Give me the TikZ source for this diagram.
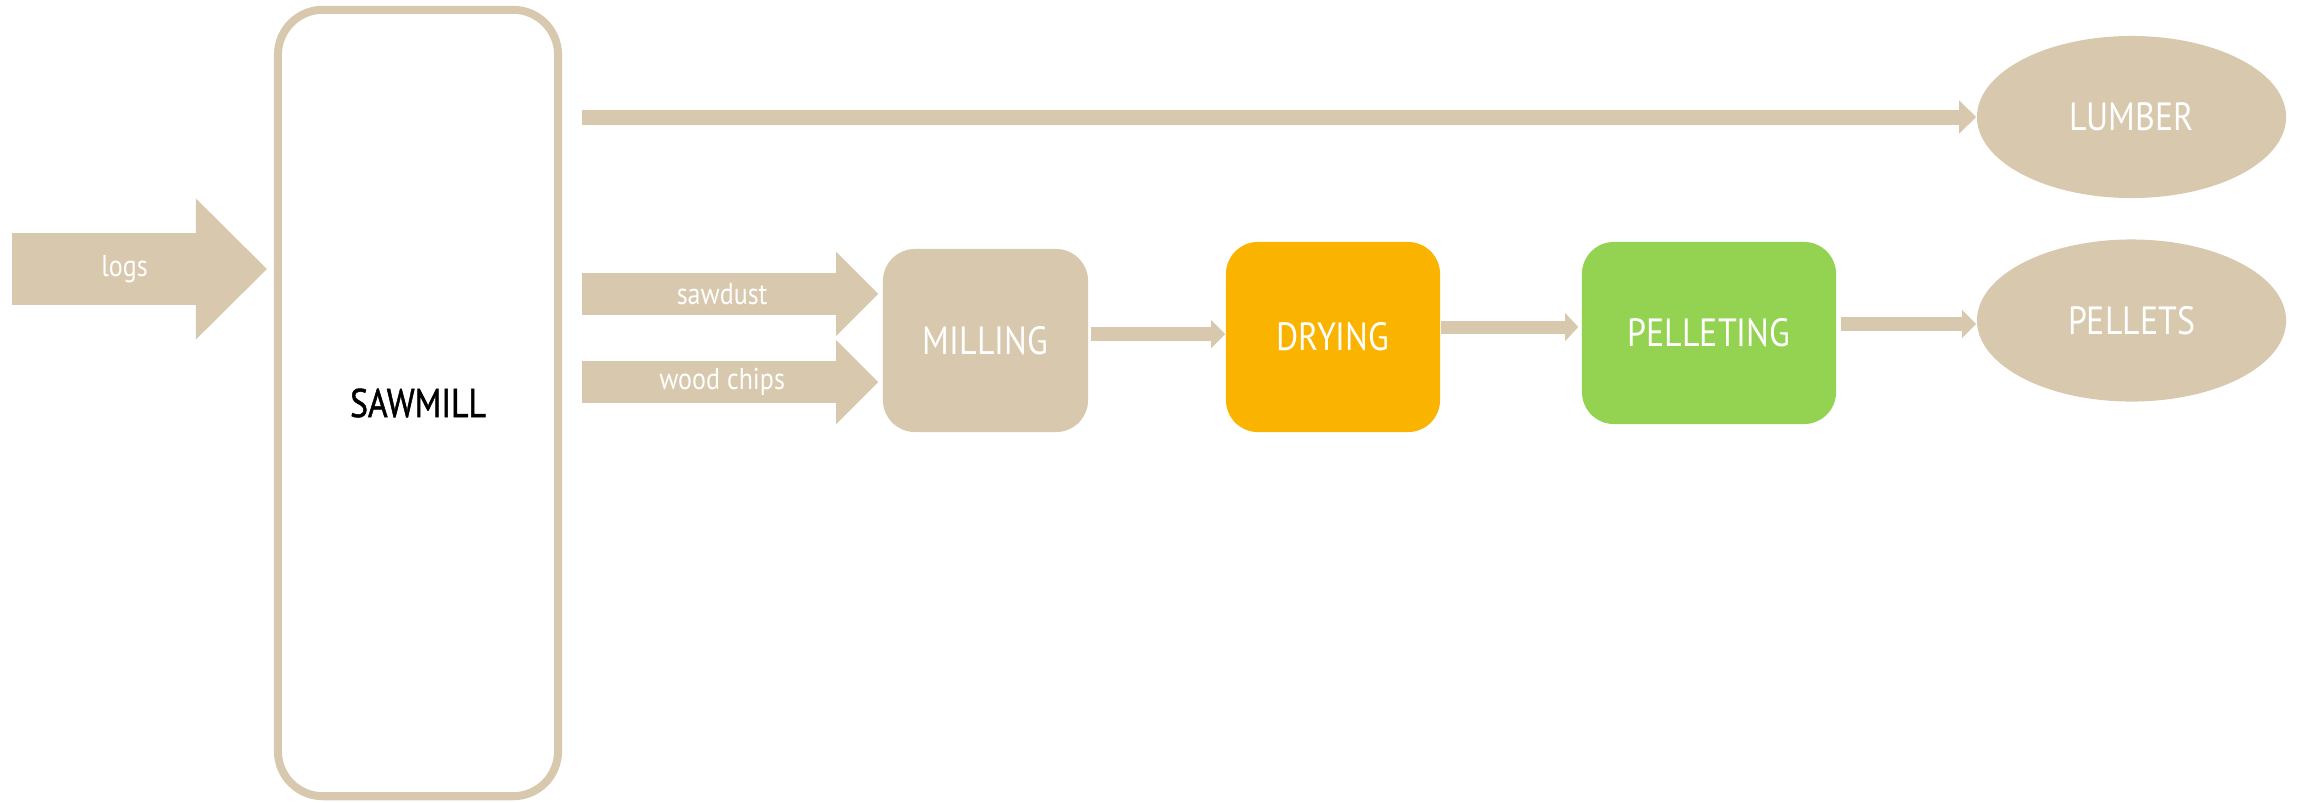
\documentclass[tikz,border=0pt]{standalone}
\usepackage{fontspec}
\setmainfont{PT Sans}[FakeStretch=0.86]
\newfontfamily\millfont{PT Sans}[FakeStretch=0.84,FakeBold=1.2]
\usetikzlibrary{arrows.meta,shapes.geometric}
\definecolor{wood}{RGB}{216,200,173}
\definecolor{dryorange}{RGB}{250,180,0}
\definecolor{pelletgreen}{RGB}{148,211,82}
\newcommand{\stagefont}{\fontsize{11.2}{13}\selectfont}
\newcommand{\flowfont}{\fontsize{8.6}{10}\selectfont}

\begin{document}
\begin{tikzpicture}[x=0.01cm,y=-0.01cm,
 stage/.style={rectangle,rounded corners=.32cm,text=white,font=\stagefont,inner sep=0pt},
 product/.style={ellipse,fill=wood,text=white,font=\stagefont,inner sep=0pt,minimum width=3.09cm,minimum height=1.62cm},
 flow/.style={draw=wood,line width=#1},
 flowlabel/.style={text=white,font=\flowfont}]
 \useasboundingbox (0,0) rectangle (2300,802);
 \node[draw=wood,line width=.08cm,rounded corners=.45cm,minimum width=2.8cm,minimum height=7.86cm,font=\millfont\fontsize{11.4}{13}\selectfont] (sawmill) at (418,403) {SAWMILL};
 \node[stage,fill=wood,minimum width=2.05cm,minimum height=1.83cm] (milling) at (985.5,340.5) {MILLING};
 \node[stage,fill=dryorange,minimum width=2.14cm,minimum height=1.9cm] (drying) at (1333,337) {DRYING};
 \node[stage,fill=pelletgreen,minimum width=2.54cm,minimum height=1.82cm] (pelleting) at (1709,333) {PELLETING};
 \node[product] (lumber) at (2131.5,117) {LUMBER};
 \node[product] (pellets) at (2131.5,320.5) {PELLETS};
 \coordinate (logstail) at (12,269);
 \coordinate (dustin) at ([yshift=.465cm]milling.west);
 \coordinate (chipsin) at ([yshift=-.415cm]milling.west);
 \coordinate (milledout) at ([yshift=.065cm]milling.east);
 \coordinate (driedout) at ([yshift=.1cm]drying.east);
 \coordinate (pelletout) at ([yshift=.09cm]pelleting.east);
 \draw[flow=.71cm,-{Triangle[length=.71cm,width=1.41cm,line width=0pt]},shorten >=.07cm] (logstail) -- (logstail -| sawmill.west) node[flowlabel,pos=.43] {logs};
 \draw[flow=.15cm,-{Triangle[length=.17cm,width=.33cm,line width=0pt]},shorten <=.2cm] (sawmill.east |- lumber.west) -- (lumber.west);
 \draw[flow=.42cm,-{Triangle[length=.42cm,width=.84cm,line width=0pt]},shorten <=.2cm,shorten >=.04cm] (sawmill.east |- dustin) -- (dustin) node[flowlabel,midway] {sawdust};
 \draw[flow=.42cm,-{Triangle[length=.42cm,width=.84cm,line width=0pt]},shorten <=.2cm,shorten >=.04cm] (sawmill.east |- chipsin) -- (chipsin) node[flowlabel,midway] {wood chips};
 \draw[flow=.14cm,-{Triangle[length=.14cm,width=.28cm,line width=0pt]},shorten <=.02cm] (milledout) -- (milledout -| drying.west);
 \draw[flow=.13cm,-{Triangle[length=.13cm,width=.28cm,line width=0pt]},shorten >=.03cm] (driedout) -- (driedout -| pelleting.west);
 \draw[flow=.14cm,-{Triangle[length=.14cm,width=.28cm,line width=0pt]},shorten <=.04cm] (pelletout) -- (pelletout -| pellets.west);
\end{tikzpicture}
\end{document}
